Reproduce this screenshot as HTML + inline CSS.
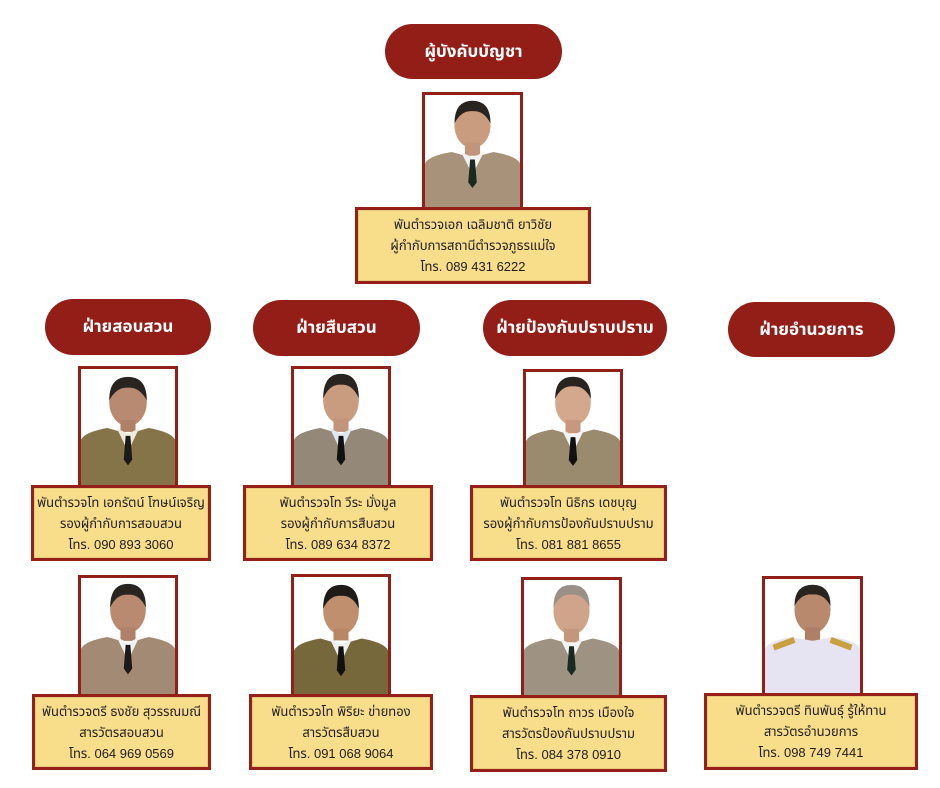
<!DOCTYPE html>
<html>
<head>
<meta charset="utf-8">
<style>
  html,body{margin:0;padding:0;background:#fff;}
  body{width:940px;height:788px;position:relative;overflow:hidden;
    font-family:"Liberation Sans","Noto Sans Thai","Loma","Garuda",sans-serif;}
  .pill{position:absolute;background:#931e17;color:#fff;font-weight:bold;font-size:17px;
    display:flex;align-items:center;justify-content:center;border-radius:28px;white-space:nowrap;}
  .photo{position:absolute;box-sizing:border-box;border:3px solid #921f18;background:#fff;overflow:hidden;}
  .photo svg{display:block;width:100%;height:100%;}
  .box{position:absolute;box-sizing:border-box;border:3px solid #95201a;background:#f8dd8b;
    display:flex;flex-direction:column;align-items:center;justify-content:center;
    font-size:13px;line-height:21px;color:#1e1e1e;text-align:center;white-space:nowrap;
    box-shadow:inset 0 0 0 1px #e9c97a;}
</style>
</head>
<body>

<!-- Top -->
<div class="pill" style="left:385px;top:24px;width:177px;height:55px;">ผู้บังคับบัญชา</div>
<div class="photo" style="left:422px;top:92px;width:101px;height:118px;">
<svg viewBox="0 0 100 118" preserveAspectRatio="none"><ellipse cx="50" cy="32" rx="19" ry="24" fill="#c99c80"/><path d="M31,30 Q31,6 50,6 Q69,6 69,30 Q62,16 50,17 Q38,16 31,30 Z" fill="#2a2420"/><rect x="42" y="50" width="16" height="14" fill="#c2957a"/><path d="M0,118 L0,72 Q4,64 28,60 L50,66 L72,60 Q96,64 100,72 L100,118 Z" fill="#a8937a"/><path d="M38,60 L50,84 L62,60 L50,66 Z" fill="#f2f2f2"/><path d="M47.5,68 L52.5,68 L54.5,92 L50,98 L45.5,92 Z" fill="#1a2a22"/></svg>
</div>
<div class="box" style="left:355px;top:207px;width:236px;height:77px;">
  <div>พันตำรวจเอก เฉลิมชาติ ยาวิชัย</div>
  <div>ผู้กำกับการสถานีตำรวจภูธรแม่ใจ</div>
  <div>โทร. 089 431 6222</div>
</div>

<!-- Division pills -->
<div class="pill" style="left:45px;top:299px;width:166px;height:56px;">ฝ่ายสอบสวน</div>
<div class="pill" style="left:253px;top:300px;width:167px;height:56px;">ฝ่ายสืบสวน</div>
<div class="pill" style="left:483px;top:300px;width:184px;height:56px;">ฝ่ายป้องกันปราบปราม</div>
<div class="pill" style="left:728px;top:302px;width:167px;height:55px;">ฝ่ายอำนวยการ</div>

<!-- Row 2 -->
<div class="photo" style="left:78px;top:366px;width:100px;height:122px;">
<svg viewBox="0 0 100 118" preserveAspectRatio="none"><ellipse cx="50" cy="34" rx="20" ry="24" fill="#b88a72"/><path d="M30,32 Q30,8 50,8 Q70,8 70,32 Q62,18 50,19 Q38,18 30,32 Z" fill="#2a2420"/><rect x="42" y="52" width="16" height="12" fill="#b08068"/><path d="M0,118 L0,72 Q4,64 28,60 L50,66 L72,60 Q96,64 100,72 L100,118 Z" fill="#857448"/><path d="M38,60 L50,84 L62,60 L50,66 Z" fill="#eeeae0"/><path d="M47.5,68 L52.5,68 L54.5,92 L50,98 L45.5,92 Z" fill="#1a1a1a"/></svg>
</div>
<div class="box" style="left:31px;top:485px;width:180px;height:76px;">
  <div>พันตำรวจโท เอกรัตน์ โฑษน์เจริญ</div>
  <div>รองผู้กำกับการสอบสวน</div>
  <div>โทร. 090 893 3060</div>
</div>

<div class="photo" style="left:291px;top:366px;width:100px;height:122px;">
<svg viewBox="0 0 100 118" preserveAspectRatio="none"><ellipse cx="50" cy="32" rx="19" ry="24" fill="#c99c80"/><path d="M31,30 Q31,5 50,5 Q69,5 69,30 Q62,15 50,16 Q38,15 31,30 Z" fill="#2a2420"/><rect x="42" y="50" width="16" height="14" fill="#c2957a"/><path d="M0,118 L0,72 Q4,64 28,60 L50,66 L72,60 Q96,64 100,72 L100,118 Z" fill="#948878"/><path d="M38,60 L50,84 L62,60 L50,66 Z" fill="#dfe6ee"/><path d="M47.5,68 L52.5,68 L54.5,92 L50,98 L45.5,92 Z" fill="#111"/></svg>
</div>
<div class="box" style="left:243px;top:485px;width:190px;height:76px;">
  <div>พันตำรวจโท วีระ มั่งมูล</div>
  <div>รองผู้กำกับการสืบสวน</div>
  <div>โทร. 089 634 8372</div>
</div>

<div class="photo" style="left:523px;top:369px;width:100px;height:119px;">
<svg viewBox="0 0 100 118" preserveAspectRatio="none"><ellipse cx="50" cy="32" rx="19" ry="24" fill="#d4a88c"/><path d="M31,28 Q31,5 50,5 Q69,5 69,28 Q62,14 50,15 Q38,14 31,28 Z" fill="#2a2420"/><rect x="42" y="50" width="16" height="14" fill="#c8987e"/><path d="M0,118 L0,72 Q4,64 28,60 L50,66 L72,60 Q96,64 100,72 L100,118 Z" fill="#9a8a6e"/><path d="M38,60 L50,84 L62,60 L50,66 Z" fill="#f2f2f2"/><path d="M47.5,68 L52.5,68 L54.5,92 L50,98 L45.5,92 Z" fill="#111"/></svg>
</div>
<div class="box" style="left:470px;top:485px;width:197px;height:76px;">
  <div>พันตำรวจโท นิธิกร เดชบุญ</div>
  <div>รองผู้กำกับการป้องกันปราบปราม</div>
  <div>โทร. 081 881 8655</div>
</div>

<!-- Row 3 -->
<div class="photo" style="left:78px;top:575px;width:100px;height:122px;">
<svg viewBox="0 0 100 118" preserveAspectRatio="none"><ellipse cx="50" cy="32" rx="19" ry="24" fill="#b98a70"/><path d="M31,30 Q31,6 50,6 Q69,6 69,30 Q62,16 50,17 Q38,16 31,30 Z" fill="#2a2420"/><rect x="42" y="50" width="16" height="14" fill="#b08068"/><path d="M0,118 L0,72 Q4,64 28,60 L50,66 L72,60 Q96,64 100,72 L100,118 Z" fill="#a28a74"/><path d="M38,60 L50,84 L62,60 L50,66 Z" fill="#f2f2f2"/><path d="M47.5,68 L52.5,68 L54.5,92 L50,98 L45.5,92 Z" fill="#1a1a1a"/></svg>
</div>
<div class="box" style="left:32px;top:694px;width:179px;height:76px;">
  <div>พันตำรวจตรี ธงชัย สุวรรณมณี</div>
  <div>สารวัตรสอบสวน</div>
  <div>โทร. 064 969 0569</div>
</div>

<div class="photo" style="left:291px;top:574px;width:100px;height:123px;">
<svg viewBox="0 0 100 118" preserveAspectRatio="none"><ellipse cx="50" cy="34" rx="19" ry="24" fill="#c0906e"/><path d="M31,32 Q31,8 50,8 Q69,8 69,32 Q62,18 50,19 Q38,18 31,32 Z" fill="#1e1a18"/><rect x="42" y="52" width="16" height="12" fill="#b88866"/><path d="M0,118 L0,74 Q4,66 28,62 L50,68 L72,62 Q96,66 100,74 L100,118 Z" fill="#76683a"/><path d="M38,62 L50,86 L62,62 L50,68 Z" fill="#eef0ee"/><path d="M47.5,70 L52.5,70 L54.5,94 L50,100 L45.5,94 Z" fill="#111"/></svg>
</div>
<div class="box" style="left:249px;top:694px;width:184px;height:76px;">
  <div>พันตำรวจโท พิริยะ ข่ายทอง</div>
  <div>สารวัตรสืบสวน</div>
  <div>โทร. 091 068 9064</div>
</div>

<div class="photo" style="left:521px;top:577px;width:101px;height:121px;">
<svg viewBox="0 0 100 118" preserveAspectRatio="none"><ellipse cx="50" cy="32" rx="19" ry="24" fill="#cfa48a"/><path d="M31,28 Q31,5 50,5 Q69,5 69,28 Q62,14 50,15 Q38,14 31,28 Z" fill="#9a9088"/><rect x="42" y="50" width="16" height="14" fill="#c4967c"/><path d="M0,118 L0,72 Q4,64 28,60 L50,66 L72,60 Q96,64 100,72 L100,118 Z" fill="#9e9282"/><path d="M38,60 L50,84 L62,60 L50,66 Z" fill="#f2f2f2"/><path d="M47.5,68 L52.5,68 L54.5,92 L50,98 L45.5,92 Z" fill="#1a2a22"/></svg>
</div>
<div class="box" style="left:470px;top:695px;width:197px;height:77px;">
  <div>พันตำรวจโท ถาวร เมืองใจ</div>
  <div>สารวัตรป้องกันปราบปราม</div>
  <div>โทร. 084 378 0910</div>
</div>

<div class="photo" style="left:762px;top:576px;width:101px;height:120px;">
<svg viewBox="0 0 100 118" preserveAspectRatio="none"><ellipse cx="50" cy="32" rx="19" ry="24" fill="#b8896c"/><path d="M31,28 Q31,6 50,6 Q69,6 69,28 Q62,15 50,16 Q38,15 31,28 Z" fill="#2a2420"/><rect x="42" y="50" width="16" height="14" fill="#ae8066"/><path d="M0,118 L0,72 Q4,64 28,60 L50,64 L72,60 Q96,64 100,72 L100,118 Z" fill="#e6e4f2"/><path d="M8,68 L30,60 L32,66 L10,74 Z" fill="#c8a040"/><path d="M92,68 L70,60 L68,66 L90,74 Z" fill="#c8a040"/></svg>
</div>
<div class="box" style="left:704px;top:693px;width:214px;height:77px;">
  <div>พันตำรวจตรี ทินพันธุ์ รู้ให้ทาน</div>
  <div>สารวัตรอำนวยการ</div>
  <div>โทร. 098 749 7441</div>
</div>

</body>
</html>
